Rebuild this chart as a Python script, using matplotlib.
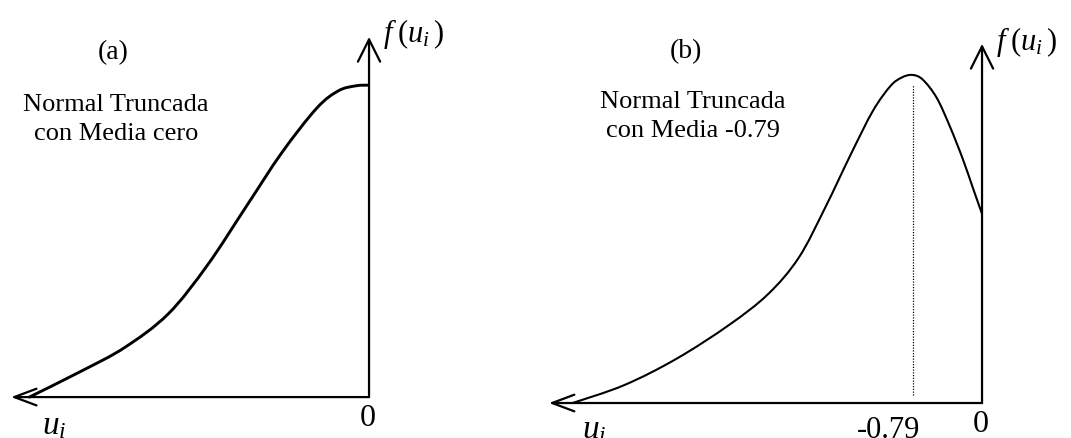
import matplotlib
matplotlib.use("Agg")
import matplotlib.pyplot as plt
import numpy as np
from matplotlib.path import Path
from matplotlib.patches import PathPatch

plt.rcParams['font.family'] = ['Liberation Serif', 'DejaVu Serif']
plt.rcParams['mathtext.fontset'] = 'custom'
plt.rcParams['mathtext.rm'] = 'Liberation Serif'
plt.rcParams['mathtext.it'] = 'Liberation Serif:italic'

# panel (a): truncated normal, mean zero
u_a = [-3.89, -3.30, -2.80, -2.30, -1.85, -1.40, -1.00, -0.60, -0.35,
       -0.15, -0.01]
f_a = [0.000, 0.078, 0.150, 0.252, 0.400, 0.580, 0.740, 0.875, 0.928,
       0.943, 0.945]

# panel (b): truncated normal, mean -0.79
u_b = [-4.69, -4.10, -3.50, -2.90, -2.45, -2.10, -1.80, -1.50, -1.25,
       -1.05, -0.92, -0.80, -0.68, -0.52, -0.37, -0.22, -0.10, 0.0]
f_b = [0.000, 0.054, 0.134, 0.236, 0.330, 0.440, 0.590, 0.755, 0.885,
       0.960, 0.986, 0.994, 0.980, 0.925, 0.839, 0.739, 0.648, 0.573]
mean_b = -0.79

titles = ['(a)', '(b)']
notes = ['Normal Truncada\ncon Media cero', 'Normal Truncada\ncon Media -0.79']


def smooth_path(xs, ys):
    # Catmull-Rom through the read points, drawn as cubic Bezier segments
    p = np.column_stack([xs, ys])
    p = np.vstack([p[0], p, p[-1]])
    verts = [p[1]]
    codes = [Path.MOVETO]
    for i in range(1, len(p) - 2):
        c1 = p[i] + (p[i + 1] - p[i - 1]) / 6
        c2 = p[i + 1] - (p[i + 2] - p[i]) / 6
        verts += [c1, c2, p[i + 1]]
        codes += [Path.CURVE4] * 3
    return Path(verts, codes)


W, H = 1071, 439
fig = plt.figure(figsize=(W / 100, H / 100), dpi=100)
ax_a = fig.add_axes([0, 0, 535 / W, 1])
ax_b = fig.add_axes([535 / W, 0, 536 / W, 1])

ax_a.set_xlim(-4.227, 1.901)
ax_a.set_ylim(-0.124, 1.206)
ax_b.set_xlim(-5.120, 1.019)
ax_b.set_ylim(-0.106, 1.224)

arrow_v = dict(arrowstyle='->, head_length=1.6, head_width=0.8', lw=1.6,
               color='black', shrinkA=0, shrinkB=0)
arrow_h = dict(arrowstyle='->, head_length=1.6, head_width=0.6', lw=1.6,
               color='black', shrinkA=0, shrinkB=0)


def draw_axes(ax, x_tip, y_tip):
    ax.annotate('', xy=(0, y_tip), xytext=(0, 0), arrowprops=arrow_v)
    ax.annotate('', xy=(x_tip, 0), xytext=(0, 0), arrowprops=arrow_h)
    ax.axis('off')


draw_axes(ax_a, -4.10, 1.091)
draw_axes(ax_b, -4.96, 1.088)

ax_a.add_patch(PathPatch(smooth_path(u_a, f_a), fill=False, color='black',
                         lw=2.1, capstyle='round'))
ax_b.add_patch(PathPatch(smooth_path(u_b, f_b), fill=False, color='black',
                         lw=1.5, capstyle='round'))
ax_b.plot([mean_b, mean_b], [0.024, 0.964], color='black', lw=0.9,
          linestyle=(0, (1, 1.2)))

fs = 19
ax_a.text(-2.93, 1.048, titles[0], fontsize=20, ha='center', va='center')
ax_b.text(-3.39, 1.067, titles[1], fontsize=20, ha='center', va='center')
ax_a.text(-2.90, 0.844, notes[0], fontsize=fs, ha='center', va='center',
          linespacing=1.4)
ax_b.text(-3.31, 0.870, notes[1], fontsize=fs, ha='center', va='center',
          linespacing=1.4)

for ax, fy, zy, ux, uy in [(ax_a, 1.103, -0.061, -3.746, -0.109),
                           (ax_b, 1.097, -0.061, -4.58, -0.105)]:
    ax.text(0.16, fy, r'$f\;(u_i\,)$', fontsize=22, ha='left', va='center',
            clip_on=False)
    ax.text(-0.01, zy, '0', fontsize=23, ha='center', va='center',
            clip_on=False)
    ax.text(ux, uy, r'$u_i$', fontsize=24, ha='left', va='baseline',
            clip_on=False)

ax_b.text(-1.065, -0.08, str(mean_b), fontsize=22, ha='center',
          va='center', clip_on=False)

fig.savefig('out.png', dpi=100)
